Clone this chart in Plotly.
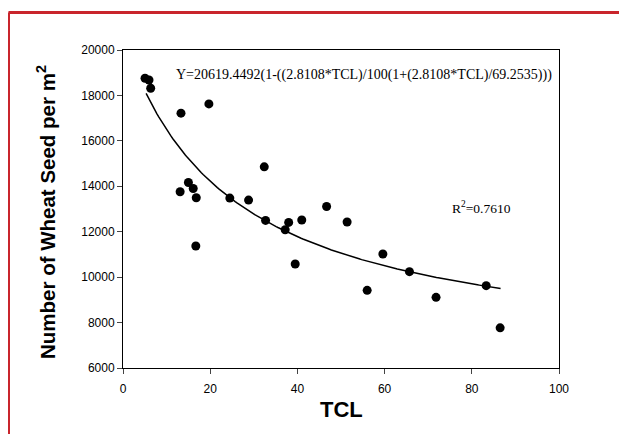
import numpy as np
import plotly.graph_objects as go

tcl = [5.05, 5.96, 6.35, 13.3, 19.7, 13.1, 15.0, 16.1, 16.8, 16.7, 24.5, 28.8,
       32.4, 32.7, 37.2, 38.0, 39.5, 41.0, 46.7, 51.4, 56.0, 59.6, 65.7, 71.8, 83.3, 86.5]
seed = [18756, 18681, 18316, 17218, 17626, 13758, 14167, 13903, 13495, 11371, 13481, 13393,
        14857, 12497, 12088, 12409, 10580, 12514, 13112, 12426, 9420, 11020, 10242, 9112, 9626, 7767]

# Fitted curve parameters as stated on the chart
a_coef = 20619.4492
b_coef = 2.8108
c_coef = 69.2535
curve_range = [5.3, 86.6]

x_ticks = [0, 20, 40, 60, 80, 100]
y_ticks = [6000, 8000, 10000, 12000, 14000, 16000, 18000, 20000]

xc = np.linspace(curve_range[0], curve_range[1], 200)
yc = a_coef * (1 - (b_coef * xc) / (100 * (1 + (b_coef * xc) / c_coef)))

fig = go.Figure()
fig.add_trace(go.Scatter(x=xc, y=yc, mode="lines",
                         line=dict(color="black", width=1.5), hoverinfo="skip"))
fig.add_trace(go.Scatter(x=tcl, y=seed, mode="markers",
                         marker=dict(color="black", size=9)))

W, H = 627, 434
L, T = 115, 42
R = W - 551
B = H - 360
pw, ph = W - L - R, H - T - B

def px(x):
    return (x - L) / pw

def py(y):
    return (H - B - y) / ph

red = "#c9252c"
fig.add_shape(type="line", xref="paper", yref="paper",
              x0=px(0.5), x1=px(0.5), y0=py(4.5), y1=py(440), line=dict(color=red, width=3))
fig.add_shape(type="line", xref="paper", yref="paper",
              x0=px(0.5), x1=px(640), y0=py(4.5), y1=py(4.5), line=dict(color=red, width=3))

fig.add_annotation(x=px(166), y=py(67), xref="paper", yref="paper", xanchor="left",
                   yanchor="middle", showarrow=False,
                   text="Y=20619.4492(1-((2.8108*TCL)/100(1+(2.8108*TCL)/69.2535)))",
                   font=dict(family="Liberation Serif", size=14, color="black"))
fig.add_annotation(x=px(442), y=py(199), xref="paper", yref="paper", xanchor="left",
                   yanchor="middle", showarrow=False,
                   text="R<sup>2</sup>=0.7610",
                   font=dict(family="Liberation Serif", size=13.5, color="black"))

# axis titles
fig.add_annotation(x=px(333), y=py(401), xref="paper", yref="paper", xanchor="center",
                   yanchor="middle", showarrow=False, text="<b>TCL</b>",
                   font=dict(family="Liberation Sans", size=22, color="black"))
fig.add_annotation(x=px(38), y=py(204), xref="paper", yref="paper", xanchor="center",
                   yanchor="middle", showarrow=False, textangle=-90,
                   text="<b>Number of Wheat Seed per m<sup>2</sup></b>",
                   font=dict(family="Liberation Sans", size=20.5, color="black"))

fig.update_xaxes(range=[0, 100], tickvals=x_ticks, ticks="outside", ticklen=5,
                 showline=True, linecolor="black", linewidth=1, mirror=True,
                 showgrid=False, zeroline=False, ticklabelstandoff=5,
                 tickfont=dict(family="Liberation Sans", size=12, color="black"))
fig.update_yaxes(range=[6000, 20000], tickvals=y_ticks, tickformat="d",
                 ticks="outside", ticklen=5,
                 showline=True, linecolor="black", linewidth=1, mirror=True,
                 showgrid=False, zeroline=False,
                 tickfont=dict(family="Liberation Sans", size=12, color="black"))

fig.update_layout(width=W, height=H, margin=dict(l=L, r=R, t=T, b=B),
                  plot_bgcolor="white", paper_bgcolor="white", showlegend=False)

fig.write_html("out.html")
